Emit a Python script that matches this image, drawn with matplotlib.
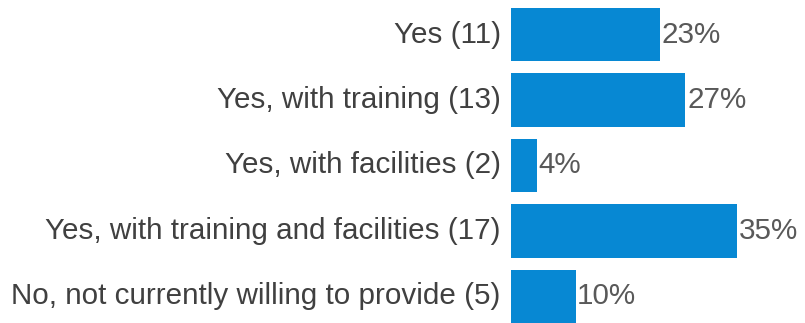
import matplotlib
matplotlib.use("Agg")
import matplotlib.pyplot as plt

# survey responses, top to bottom
categories = [
    "Yes (11)",
    "Yes, with training (13)",
    "Yes, with facilities (2)",
    "Yes, with training and facilities (17)",
    "No, not currently willing to provide (5)",
]
percent = [23, 27, 4, 35, 10]

BAR_COLOR = "#0788d3"

plt.rcParams["font.family"] = ["Liberation Sans", "DejaVu Sans"]

fig = plt.figure(figsize=(8.05, 3.23), dpi=100)
ax = fig.add_axes([0.6348, 0.0, 0.3652, 1.0])

ypos = list(range(len(categories)))
bars = ax.barh(ypos, percent, height=0.81, color=BAR_COLOR)

ax.set_xlim(0, 45.5)
ax.set_ylim(4.405, -0.527)

for y, p, name in zip(ypos, percent, categories):
    ax.text(p + 0.25, y, f"{p}%", va="center", ha="left",
            fontsize=21.3, color="#595959")
    ax.text(-1.6, y, name, va="center", ha="right",
            fontsize=21.3, color="#404040")

ax.set_xticks([])
ax.set_yticks([])
for s in ax.spines.values():
    s.set_visible(False)

fig.savefig("out.png", dpi=100)
